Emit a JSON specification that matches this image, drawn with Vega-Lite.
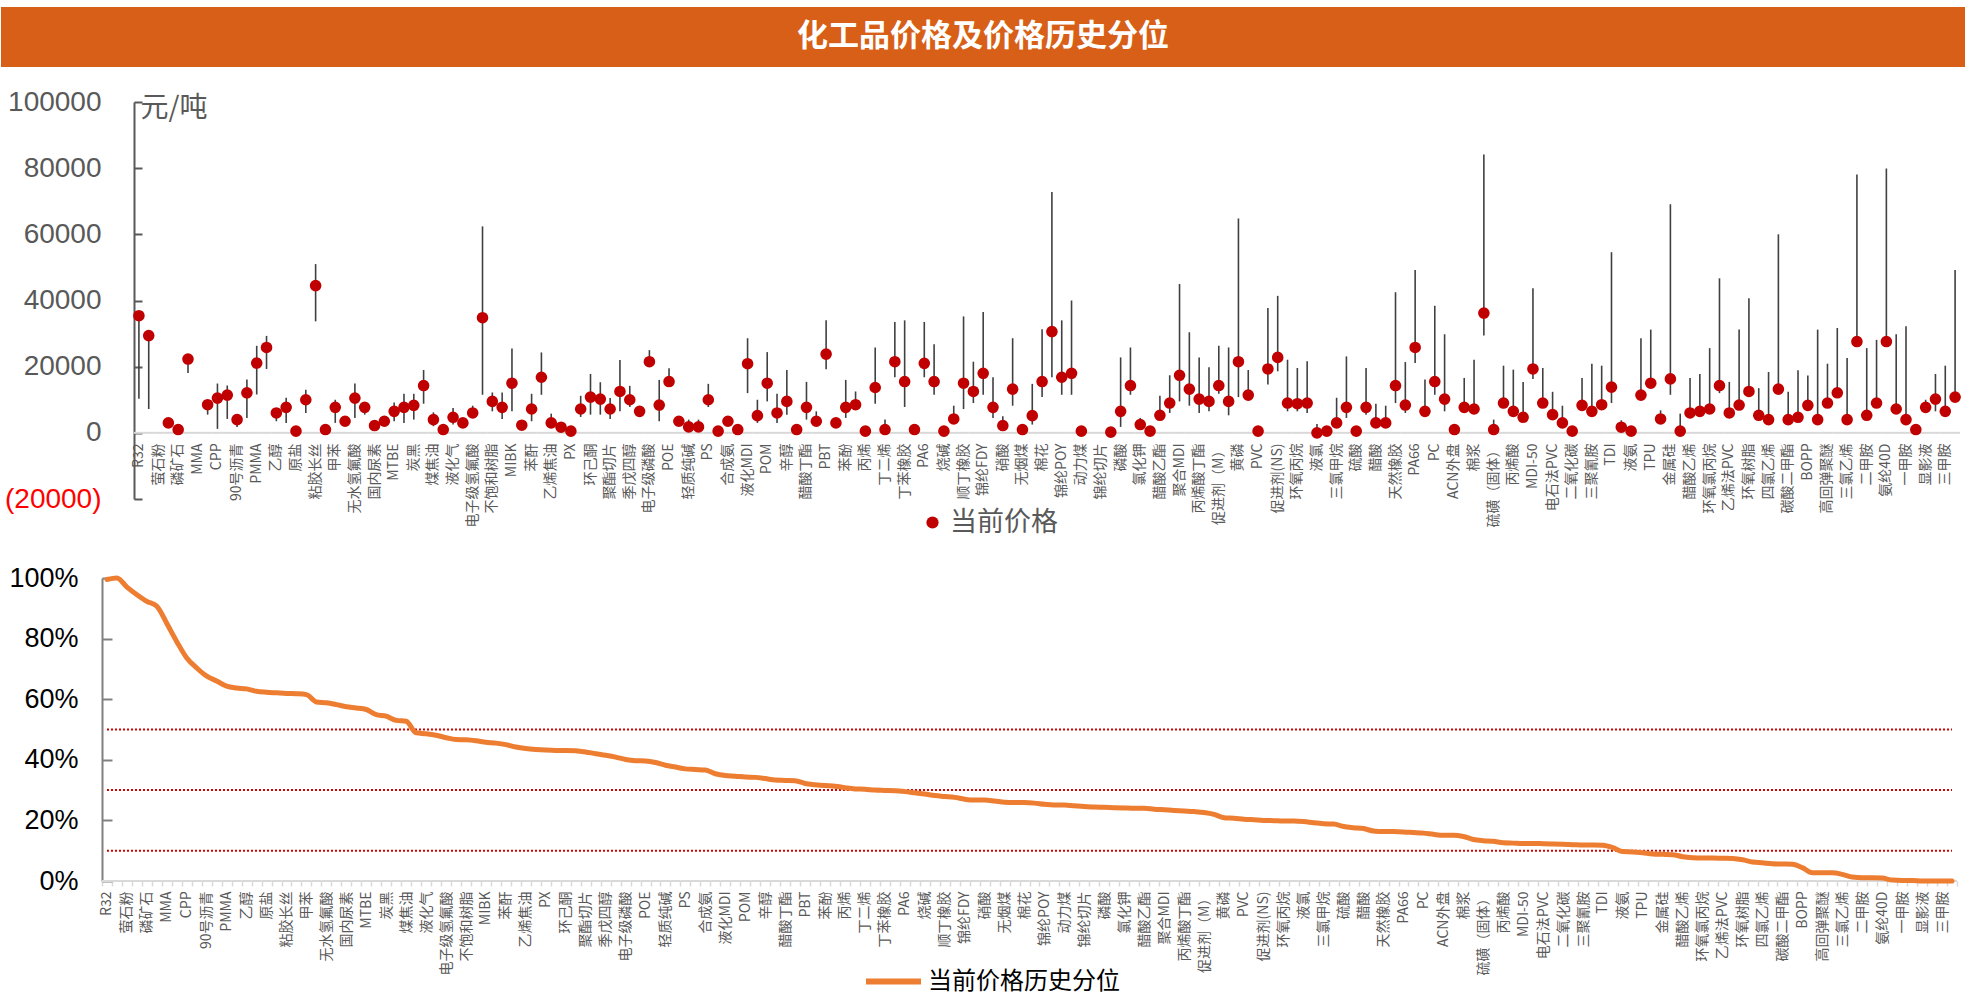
{
"$schema": "https://vega.github.io/schema/vega-lite/v6.json",
"background": "white",
"padding": {"left": -6, "top": 7, "right": 0, "bottom": 0},
"config": {"view": {"stroke": null}, "axis": {"grid": false}, "font": "Noto Sans CJK SC"},
"spacing": 21,
"resolve": {"scale": {"x": "independent", "y": "independent", "color": "independent"}, "legend": {"color": "independent"}},
"datasets": {"d": [
{"k":"R32","p":35400,"lo":10300,"hi":35400,"q":0.995},
{"k":"#1","p":29400,"lo":7200,"hi":29400,"q":1.0},
{"k":"萤石粉","p":null,"lo":null,"hi":null,"q":0.97},
{"k":"#3","p":3000,"lo":2000,"hi":3500,"q":0.945},
{"k":"磷矿石","p":1000,"lo":600,"hi":1300,"q":0.923},
{"k":"#5","p":22300,"lo":18100,"hi":22300,"q":0.907},
{"k":"MMA","p":null,"lo":null,"hi":null,"q":0.85},
{"k":"#7","p":8500,"lo":5500,"hi":8500,"q":0.79},
{"k":"CPP","p":10500,"lo":1200,"hi":14900,"q":0.736},
{"k":"#9","p":11400,"lo":4200,"hi":14300,"q":0.703},
{"k":"90号沥青","p":4000,"lo":1800,"hi":4000,"q":0.676},
{"k":"#11","p":12100,"lo":4500,"hi":16100,"q":0.66},
{"k":"PMMA","p":21100,"lo":11600,"hi":26300,"q":0.643},
{"k":"#13","p":25800,"lo":19300,"hi":29300,"q":0.637},
{"k":"乙醇","p":6000,"lo":3500,"hi":6000,"q":0.634},
{"k":"#15","p":7700,"lo":3000,"hi":10600,"q":0.626},
{"k":"原盐","p":500,"lo":500,"hi":500,"q":0.623},
{"k":"#17","p":10000,"lo":6000,"hi":13000,"q":0.621},
{"k":"粘胶长丝","p":44500,"lo":33700,"hi":51000,"q":0.619},
{"k":"#19","p":1000,"lo":1000,"hi":1000,"q":0.618},
{"k":"甲苯","p":7700,"lo":3000,"hi":10000,"q":0.615},
{"k":"#21","p":3500,"lo":3500,"hi":3500,"q":0.591},
{"k":"无水氢氟酸","p":10500,"lo":4500,"hi":14900,"q":0.588},
{"k":"#23","p":7700,"lo":5500,"hi":7700,"q":0.582},
{"k":"国内尿素","p":2200,"lo":2200,"hi":2200,"q":0.575},
{"k":"#25","p":3500,"lo":3500,"hi":3500,"q":0.571},
{"k":"MTBE","p":6500,"lo":3500,"hi":9200,"q":0.566},
{"k":"#27","p":7700,"lo":3000,"hi":11800,"q":0.549},
{"k":"炭黑","p":8300,"lo":4000,"hi":11800,"q":0.544},
{"k":"#29","p":14300,"lo":8800,"hi":19000,"q":0.53},
{"k":"煤焦油","p":4000,"lo":2000,"hi":6200,"q":0.527},
{"k":"#31","p":1000,"lo":1000,"hi":1000,"q":0.489},
{"k":"液化气","p":4700,"lo":2500,"hi":7500,"q":0.486},
{"k":"#33","p":3000,"lo":3000,"hi":3000,"q":0.481},
{"k":"电子级氢氟酸","p":6000,"lo":6000,"hi":8200,"q":0.473},
{"k":"#35","p":34800,"lo":11500,"hi":62400,"q":0.467},
{"k":"不饱和树脂","p":9500,"lo":6500,"hi":12200,"q":0.466},
{"k":"#37","p":7700,"lo":4200,"hi":12200,"q":0.463},
{"k":"MIBK","p":15000,"lo":6500,"hi":25500,"q":0.458},
{"k":"#39","p":2300,"lo":2300,"hi":2300,"q":0.455},
{"k":"苯酐","p":7200,"lo":3500,"hi":11800,"q":0.45},
{"k":"#41","p":16800,"lo":11500,"hi":24300,"q":0.442},
{"k":"乙烯焦油","p":3000,"lo":3000,"hi":5800,"q":0.437},
{"k":"#43","p":1700,"lo":1700,"hi":1700,"q":0.434},
{"k":"PX","p":500,"lo":500,"hi":500,"q":0.432},
{"k":"#45","p":7200,"lo":4800,"hi":11200,"q":0.431},
{"k":"环己酮","p":10800,"lo":5500,"hi":17800,"q":0.431},
{"k":"#47","p":10200,"lo":5500,"hi":15300,"q":0.43},
{"k":"聚酯切片","p":7200,"lo":4200,"hi":10500,"q":0.426},
{"k":"#49","p":12500,"lo":6500,"hi":22000,"q":0.42},
{"k":"季戊四醇","p":10000,"lo":7800,"hi":14200,"q":0.415},
{"k":"#51","p":6500,"lo":6500,"hi":8000,"q":0.409},
{"k":"电子级磷酸","p":21500,"lo":21500,"hi":25000,"q":0.401},
{"k":"#53","p":8400,"lo":3500,"hi":16000,"q":0.397},
{"k":"POE","p":15500,"lo":15500,"hi":19500,"q":0.396},
{"k":"#55","p":3500,"lo":3500,"hi":3500,"q":0.391},
{"k":"轻质纯碱","p":1800,"lo":1800,"hi":4000,"q":0.382},
{"k":"#57","p":1800,"lo":1800,"hi":4000,"q":0.376},
{"k":"PS","p":10000,"lo":7800,"hi":14800,"q":0.37},
{"k":"#59","p":500,"lo":500,"hi":500,"q":0.368},
{"k":"合成氨","p":3500,"lo":3500,"hi":3500,"q":0.366},
{"k":"#61","p":1000,"lo":1000,"hi":1000,"q":0.354},
{"k":"液化MDI","p":20900,"lo":12000,"hi":28600,"q":0.348},
{"k":"#63","p":5200,"lo":3000,"hi":10000,"q":0.346},
{"k":"POM","p":15000,"lo":9500,"hi":24400,"q":0.343},
{"k":"#65","p":6000,"lo":3000,"hi":11800,"q":0.342},
{"k":"辛醇","p":9500,"lo":5500,"hi":19000,"q":0.338},
{"k":"#67","p":1000,"lo":1000,"hi":1000,"q":0.333},
{"k":"醋酸丁酯","p":7700,"lo":4000,"hi":15400,"q":0.332},
{"k":"#69","p":3500,"lo":3500,"hi":6500,"q":0.331},
{"k":"PBT","p":23800,"lo":19200,"hi":34000,"q":0.322},
{"k":"#71","p":3000,"lo":3000,"hi":3000,"q":0.318},
{"k":"苯酚","p":7700,"lo":4500,"hi":16000,"q":0.315},
{"k":"#73","p":8500,"lo":8500,"hi":12500,"q":0.313},
{"k":"丙烯","p":500,"lo":500,"hi":500,"q":0.308},
{"k":"#75","p":13700,"lo":8800,"hi":25800,"q":0.304},
{"k":"丁二烯","p":1000,"lo":1000,"hi":4000,"q":0.303},
{"k":"#77","p":21500,"lo":16800,"hi":33500,"q":0.30},
{"k":"丁苯橡胶","p":15500,"lo":7800,"hi":34000,"q":0.299},
{"k":"#79","p":1000,"lo":1000,"hi":1000,"q":0.298},
{"k":"PA6","p":21000,"lo":16800,"hi":33500,"q":0.295},
{"k":"#81","p":15500,"lo":11500,"hi":26800,"q":0.291},
{"k":"烧碱","p":500,"lo":500,"hi":500,"q":0.287},
{"k":"#83","p":4200,"lo":4200,"hi":8200,"q":0.282},
{"k":"顺丁橡胶","p":15000,"lo":7200,"hi":35200,"q":0.279},
{"k":"#85","p":12500,"lo":9000,"hi":21500,"q":0.276},
{"k":"锦纶FDY","p":18000,"lo":11500,"hi":36500,"q":0.27},
{"k":"#87","p":7700,"lo":4500,"hi":16800,"q":0.267},
{"k":"硝酸","p":2200,"lo":2200,"hi":5000,"q":0.267},
{"k":"#89","p":13200,"lo":8200,"hi":28600,"q":0.264},
{"k":"无烟煤","p":1000,"lo":1000,"hi":1000,"q":0.26},
{"k":"#91","p":5200,"lo":2500,"hi":14800,"q":0.259},
{"k":"棉花","p":15500,"lo":10800,"hi":31300,"q":0.259},
{"k":"#93","p":30600,"lo":16800,"hi":72800,"q":0.257},
{"k":"锦纶POY","p":16800,"lo":11500,"hi":34000,"q":0.253},
{"k":"#95","p":18000,"lo":11500,"hi":40000,"q":0.251},
{"k":"动力煤","p":500,"lo":500,"hi":500,"q":0.251},
{"k":"#97","p":null,"lo":null,"hi":null,"q":0.248},
{"k":"锦纶切片","p":null,"lo":null,"hi":null,"q":0.246},
{"k":"#99","p":200,"lo":200,"hi":200,"q":0.244},
{"k":"磷酸","p":6500,"lo":1800,"hi":22800,"q":0.243},
{"k":"#101","p":14300,"lo":11500,"hi":25800,"q":0.242},
{"k":"氯化钾","p":2500,"lo":2500,"hi":4500,"q":0.241},
{"k":"#103","p":500,"lo":500,"hi":500,"q":0.24},
{"k":"醋酸乙酯","p":5300,"lo":5300,"hi":11200,"q":0.24},
{"k":"#105","p":9000,"lo":6000,"hi":17400,"q":0.237},
{"k":"聚合MDI","p":17400,"lo":9500,"hi":45000,"q":0.235},
{"k":"#107","p":13200,"lo":8200,"hi":30400,"q":0.233},
{"k":"丙烯酸丁酯","p":10200,"lo":6000,"hi":22800,"q":0.231},
{"k":"#109","p":9500,"lo":6500,"hi":19800,"q":0.229},
{"k":"促进剂（M）","p":14300,"lo":11800,"hi":26300,"q":0.226},
{"k":"#111","p":9500,"lo":5300,"hi":25800,"q":0.22},
{"k":"黄磷","p":21500,"lo":10800,"hi":64800,"q":0.209},
{"k":"#113","p":11400,"lo":11400,"hi":19000,"q":0.207},
{"k":"PVC","p":500,"lo":500,"hi":500,"q":0.204},
{"k":"#115","p":19300,"lo":14600,"hi":37700,"q":0.202},
{"k":"促进剂(NS)","p":22800,"lo":18600,"hi":41400,"q":0.20},
{"k":"#117","p":9000,"lo":6500,"hi":22100,"q":0.199},
{"k":"环氧丙烷","p":8800,"lo":6500,"hi":19600,"q":0.198},
{"k":"#119","p":9000,"lo":6000,"hi":21600,"q":0.198},
{"k":"液氯","p":0,"lo":0,"hi":2700,"q":0.196},
{"k":"#121","p":500,"lo":500,"hi":500,"q":0.192},
{"k":"三氯甲烷","p":3000,"lo":3000,"hi":10600,"q":0.189},
{"k":"#123","p":7700,"lo":4500,"hi":23100,"q":0.188},
{"k":"硫酸","p":500,"lo":500,"hi":500,"q":0.18},
{"k":"#125","p":7700,"lo":5500,"hi":19600,"q":0.176},
{"k":"醋酸","p":3000,"lo":3000,"hi":8800,"q":0.173},
{"k":"#127","p":3000,"lo":3000,"hi":8200,"q":0.165},
{"k":"天然橡胶","p":14300,"lo":9000,"hi":42500,"q":0.163},
{"k":"#129","p":8400,"lo":6000,"hi":21400,"q":0.163},
{"k":"PA66","p":25800,"lo":21100,"hi":49200,"q":0.162},
{"k":"#131","p":6500,"lo":6500,"hi":16100,"q":0.16},
{"k":"PC","p":15500,"lo":11500,"hi":38400,"q":0.158},
{"k":"#133","p":10200,"lo":6500,"hi":29800,"q":0.154},
{"k":"ACN外盘","p":1000,"lo":1000,"hi":1000,"q":0.151},
{"k":"#135","p":7700,"lo":6500,"hi":16600,"q":0.151},
{"k":"棉浆","p":7200,"lo":6500,"hi":22100,"q":0.147},
{"k":"#137","p":36200,"lo":29400,"hi":84100,"q":0.137},
{"k":"硫磺（固体）","p":1000,"lo":1000,"hi":4000,"q":0.133},
{"k":"#139","p":9000,"lo":9000,"hi":20300,"q":0.131},
{"k":"丙烯酸","p":6500,"lo":5500,"hi":19100,"q":0.126},
{"k":"#141","p":4700,"lo":4700,"hi":15400,"q":0.125},
{"k":"MDI-50","p":19300,"lo":16300,"hi":43700,"q":0.124},
{"k":"#143","p":9000,"lo":9000,"hi":19600,"q":0.124},
{"k":"电石法PVC","p":5500,"lo":5500,"hi":12400,"q":0.123},
{"k":"#145","p":3000,"lo":3000,"hi":8200,"q":0.122},
{"k":"二氧化碳","p":500,"lo":500,"hi":500,"q":0.121},
{"k":"#147","p":8300,"lo":8300,"hi":16600,"q":0.12},
{"k":"三聚氰胺","p":6500,"lo":6500,"hi":20900,"q":0.119},
{"k":"#149","p":8500,"lo":8500,"hi":20300,"q":0.119},
{"k":"TDI","p":13800,"lo":9000,"hi":54600,"q":0.118},
{"k":"#151","p":1700,"lo":1700,"hi":3800,"q":0.11},
{"k":"液氨","p":500,"lo":500,"hi":500,"q":0.097},
{"k":"#153","p":11400,"lo":11400,"hi":28600,"q":0.096},
{"k":"TPU","p":15000,"lo":15000,"hi":31200,"q":0.093},
{"k":"#155","p":4200,"lo":4200,"hi":6800,"q":0.089},
{"k":"金属硅","p":16300,"lo":11500,"hi":69100,"q":0.088},
{"k":"#157","p":500,"lo":500,"hi":5800,"q":0.087},
{"k":"醋酸乙烯","p":6000,"lo":6000,"hi":16600,"q":0.08},
{"k":"#159","p":6500,"lo":6500,"hi":17800,"q":0.077},
{"k":"环氧氯丙烷","p":7200,"lo":7200,"hi":25600,"q":0.076},
{"k":"#161","p":14300,"lo":12000,"hi":46700,"q":0.076},
{"k":"乙烯法PVC","p":6000,"lo":6000,"hi":15400,"q":0.075},
{"k":"#163","p":8400,"lo":8400,"hi":31200,"q":0.074},
{"k":"环氧树脂","p":12500,"lo":12500,"hi":40700,"q":0.07},
{"k":"#165","p":5300,"lo":5300,"hi":13500,"q":0.063},
{"k":"四氯乙烯","p":4000,"lo":4000,"hi":18400,"q":0.06},
{"k":"#167","p":13200,"lo":13200,"hi":60000,"q":0.057},
{"k":"碳酸二甲酯","p":4000,"lo":4000,"hi":12400,"q":0.056},
{"k":"#169","p":4700,"lo":4700,"hi":18900,"q":0.055},
{"k":"BOPP","p":8300,"lo":8300,"hi":17300,"q":0.044},
{"k":"#171","p":4000,"lo":4000,"hi":31200,"q":0.027},
{"k":"高回弹聚醚","p":9000,"lo":9000,"hi":20900,"q":0.027},
{"k":"#173","p":12100,"lo":12100,"hi":31700,"q":0.027},
{"k":"三氯乙烯","p":4000,"lo":4000,"hi":22600,"q":0.022},
{"k":"#175","p":27600,"lo":27600,"hi":78100,"q":0.013},
{"k":"二甲胺","p":5300,"lo":5300,"hi":25600,"q":0.011},
{"k":"#177","p":9000,"lo":9000,"hi":28100,"q":0.011},
{"k":"氨纶40D","p":27600,"lo":27600,"hi":79900,"q":0.01},
{"k":"#179","p":7200,"lo":7200,"hi":29800,"q":0.003},
{"k":"一甲胺","p":4000,"lo":4000,"hi":32200,"q":0.002},
{"k":"#181","p":1000,"lo":1000,"hi":1000,"q":0.002},
{"k":"显影液","p":7700,"lo":7700,"hi":10000,"q":0.0},
{"k":"#183","p":10200,"lo":6500,"hi":17800,"q":0.0},
{"k":"三甲胺","p":6500,"lo":6500,"hi":20300,"q":0.0},
{"k":"#185","p":10800,"lo":10800,"hi":49200,"q":0.0}
]},
"vconcat": [
{
 "width": 1964, "height": 60,
 "view": {"fill": "#D85F17", "stroke": null},
 "data": {"values": [{"t": "化工品价格及价格历史分位"}]},
 "mark": {"type": "text", "color": "#FFFFFF", "fontSize": 31, "fontWeight": "bold", "font": "Noto Sans CJK SC", "baseline": "middle", "align": "center"},
 "encoding": {"text": {"field": "t", "type": "nominal"}}
},
{
 "spacing": 0,
 "resolve": {"scale": {"x": "independent", "y": "independent", "color": "independent"}, "legend": {"color": "independent"}},
 "vconcat": [
 {
  "width": 1959, "height": 397,
  "data": {"name": "d"},
  "encoding": {
   "x": {"field": "k", "type": "nominal", "sort": null,
    "scale": {"type": "band", "paddingInner": 0, "paddingOuter": 0, "range": [133, 1959]},
    "axis": {"title": null, "offset": -66, "ticks": false, "domain": false,
     "labelAngle": -90, "labelFontSize": 14, "labelColor": "#595959", "labelPadding": 10, "labelOverlap": false,
     "labelFont": "Noto Sans CJK SC",
     "labelExpr": "indexof(datum.label, '#') === 0 ? '' : datum.label"}}
  },
  "layer": [
   {
    "mark": {"type": "tick", "color": "#D9D9D9", "thickness": 2, "size": 10, "orient": "horizontal", "opacity": 1},
    "encoding": {"y": {"datum": 0, "type": "quantitative"}}
   },
   {
    "mark": {"type": "rule", "color": "#404040", "strokeWidth": 1.6},
    "encoding": {
     "y": {"field": "lo", "type": "quantitative",
      "scale": {"domain": [-20000, 100000], "nice": false, "zero": false},
      "axis": {"values": [-20000, 0, 20000, 40000, 60000, 80000, 100000], "offset": -133,
       "labelExpr": "datum.value < 0 ? '(' + format(-datum.value, 'd') + ')' : format(datum.value, 'd')",
       "labelColor": {"condition": {"test": "datum.value < 0", "value": "#FF0000"}, "value": "#595959"},
       "labelFont": "Liberation Sans", "labelFontSize": 28, "labelPadding": 41,
       "domainColor": "#595959", "domainWidth": 2, "tickColor": "#595959", "tickWidth": 2, "tickSize": -8,
       "title": "元/吨", "titleColor": "#595959", "titleAngle": 0, "titleX": 6, "titleY": -8,
       "titleAlign": "left", "titleBaseline": "top", "titleFontSize": 28, "titleFontWeight": "normal",
       "titleFont": "Noto Sans CJK SC"}},
     "y2": {"field": "hi"}
    }
   },
   {
    "mark": {"type": "circle", "size": 135, "opacity": 1},
    "encoding": {
     "y": {"field": "p", "type": "quantitative"},
     "color": {"datum": "当前价格", "scale": {"range": ["#C00000"]},
      "legend": {"title": null, "orient": "none", "legendX": 918, "legendY": 407, "padding": 0,
       "labelFontSize": 27, "labelColor": "#595959", "labelFont": "Noto Sans CJK SC", "symbolSize": 150,
       "labelOffset": 4, "symbolType": "circle", "labelLimit": 400}}
    }
   }
  ]
 },
 {
  "width": 1956, "height": 303,
  "data": {"name": "d"},
  "encoding": {
   "x": {"field": "k", "type": "nominal", "sort": null,
    "scale": {"type": "band", "paddingInner": 0, "paddingOuter": 0, "range": [101, 1956]},
    "axis": {"title": null, "domain": false, "tickColor": "#D9D9D9", "tickWidth": 1.5,
     "tickSize": 5, "tickBand": "extent",
     "labelAngle": -90, "labelFontSize": 14, "labelColor": "#595959", "labelPadding": 5, "labelOverlap": false,
     "labelFont": "Noto Sans CJK SC",
     "labelExpr": "indexof(datum.label, '#') === 0 ? '' : datum.label"}}
  },
  "layer": [
   {
    "mark": {"type": "tick", "color": "#D9D9D9", "thickness": 2, "size": 10, "orient": "horizontal", "opacity": 1},
    "encoding": {"y": {"datum": 0, "type": "quantitative",
     "scale": {"domain": [0, 1], "nice": false},
     "axis": {"values": [0, 0.1, 0.2, 0.3, 0.4, 0.5, 0.6, 0.7, 0.8, 0.9, 1], "format": ".0%", "offset": -101,
      "labelFont": "Liberation Sans", "labelFontSize": 27, "labelColor": "#000000", "labelPadding": 34,
      "domainColor": "#808080", "domainWidth": 2, "tickColor": "#808080", "tickWidth": 2, "tickSize": -10,
      "title": ".", "titleColor": "#FFFFFF", "titleAngle": 0, "titleX": 2, "titleY": -42,
      "titleAlign": "left", "titleBaseline": "top", "titleFontSize": 8}}}
   },
   {
    "mark": {"type": "line", "color": "#D00000", "strokeWidth": 2, "strokeDash": [2, 2]},
    "encoding": {"y": {"datum": 0.5, "type": "quantitative"}}
   },
   {
    "mark": {"type": "line", "color": "#D00000", "strokeWidth": 2, "strokeDash": [2, 2]},
    "encoding": {"y": {"datum": 0.3, "type": "quantitative"}}
   },
   {
    "mark": {"type": "line", "color": "#D00000", "strokeWidth": 2, "strokeDash": [2, 2]},
    "encoding": {"y": {"datum": 0.1, "type": "quantitative"}}
   },
   {
    "mark": {"type": "line", "strokeWidth": 5, "interpolate": "monotone", "strokeCap": "round"},
    "encoding": {
     "y": {"field": "q", "type": "quantitative"},
     "color": {"datum": "当前价格历史分位", "scale": {"range": ["#ED7D31"]},
      "legend": {"title": null, "orient": "none", "legendX": 862, "legendY": 373, "padding": 0,
       "labelFontSize": 24, "labelColor": "#000000", "labelFont": "Noto Sans CJK SC", "labelLimit": 500,
       "symbolType": "stroke", "symbolSize": 3025, "symbolStrokeWidth": 6, "labelOffset": 4}}
    }
   }
  ]
 }
 ]
}
]
}
